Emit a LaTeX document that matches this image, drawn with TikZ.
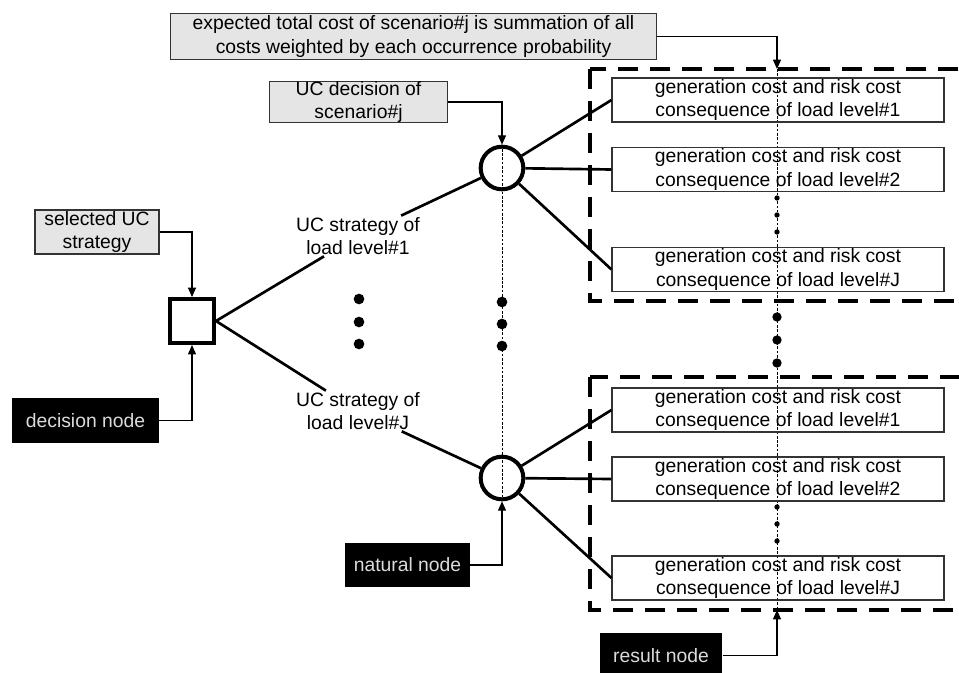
\documentclass[tikz,border=0pt]{standalone}
\usepackage{fontspec}
\setmainfont{Liberation Sans}
\usetikzlibrary{arrows.meta}
\definecolor{notegray}{rgb}{0.9,0.9,0.9}
\definecolor{palegray}{rgb}{0.86,0.86,0.86}

\begin{document}
\begin{tikzpicture}
  [x=0.75pt,y=-0.75pt,
   font=\fontsize{14.5}{17.5}\selectfont,
   noteN/.style={draw=black!80,fill=notegray,align=center,inner sep=0pt,line width=0.8pt},
   blackN/.style={fill=black,text=palegray,inner sep=0pt},
   resultN/.style={draw=black!80,align=center,inner sep=0pt,minimum width=249pt,minimum height=33pt,line width=0.8pt},
   chanceN/.style={circle,draw,line width=3pt,minimum size=32pt,inner sep=0pt},
   decisionN/.style={rectangle,draw,line width=3pt,minimum size=33pt,inner sep=0pt},
   stratN/.style={align=center,inner sep=1pt},
   branch/.style={line width=2pt},
   conn/.style={line width=0.9pt,-{Triangle[length=7pt,width=6pt]}},
   dashbox/.style={line width=2.4pt,dash pattern=on 15pt off 9pt},
   vdots/.style={line width=0.7pt,dash pattern=on 2pt off 1.2pt}]

  \useasboundingbox (0,0) rectangle (959,673);

  % dashed groups of results
  \draw[dashbox] (590,69) rectangle (990,301);
  \draw[dashbox] (590,377) rectangle (990,610);
  \coordinate (uT) at (777,69);
  \coordinate (lB) at (777,610);

  % decision and natural nodes
  \node[decisionN] (sq) at (192,321) {};
  \node[chanceN] (c1) at (502,168) {};
  \node[chanceN] (c2) at (502,478) {};

  \draw[vdots] (uT) -- (lB);
  \draw[vdots] (c1.north) -- (c2.south);

  % results
  \node[resultN] (u1) at (778,100)   {generation cost and risk cost\\consequence of load level\#1};
  \node[resultN] (u2) at (778,169.5) {generation cost and risk cost\\consequence of load level\#2};
  \node[resultN] (uJ) at (778,269.5) {generation cost and risk cost\\consequence of load level\#J};
  \node[resultN] (l1) at (778,410)   {generation cost and risk cost\\consequence of load level\#1};
  \node[resultN] (l2) at (778,479)   {generation cost and risk cost\\consequence of load level\#2};
  \node[resultN] (lJ) at (778,578)   {generation cost and risk cost\\consequence of load level\#J};

  % notes
  \node[noteN,minimum width=365pt,minimum height=34pt] (exp) at (413.5,36.5)
    {expected total cost of scenario\#j is summation of all\\costs weighted by each occurrence probability};
  \node[noteN,minimum width=133pt,minimum height=30pt] (ucd) at (358.5,102) {UC decision of\\scenario\#j};
  \node[noteN,minimum width=93pt,minimum height=33pt] (sel) at (97,232) {selected UC\\strategy};
  \node[blackN,minimum width=110pt,minimum height=34pt] (dec) at (85.5,420.5) {decision node};
  \node[blackN,minimum width=94pt,minimum height=33pt] (nat) at (407.5,565) {natural node};
  \node[blackN,minimum width=92pt,minimum height=34pt] (res) at (661,655.5) {result node};

  \node[stratN] (s1) at (358,236) {UC strategy of\\load level\#1};
  \node[stratN] (sJ) at (358,411) {UC strategy of\\load level\#J};

  \draw[conn] (exp.east) -| (uT);
  \draw[conn] (ucd.east) -| (c1.north);
  \draw[conn] (sel.east) -| (sq.north);
  \draw[conn] (dec.east) -| (sq.south);
  \draw[conn] (nat.east) -| (c2.south);
  \draw[conn] (res.east) -| (lB);

  % branches
  \draw[branch] (sq.east) -- (s1) -- (c1);
  \draw[branch] (sq.east) -- (sJ) -- (c2);
  \foreach \r in {u1,u2,uJ} \draw[branch] (c1) -- (\r.west);
  \foreach \r in {l1,l2,lJ} \draw[branch] (c2) -- (\r.west);

  % ellipsis dots
  \foreach \y in {299,322,344} \fill (359,\y) circle (4pt);
  \foreach \y in {302,324,346} \fill (502,\y) circle (4pt);
  \foreach \y in {317,340,363} \fill (777,\y) circle (3.5pt);
  \foreach \y in {198,215,232,507,524,541} \fill (777,\y) circle (2pt);
\end{tikzpicture}
\end{document}
